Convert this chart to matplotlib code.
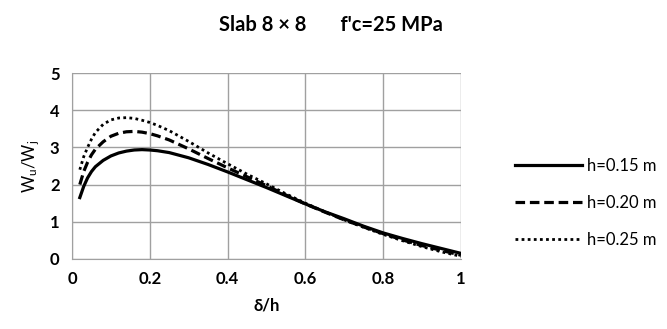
import matplotlib
matplotlib.use("Agg")
import matplotlib.pyplot as plt

plt.rcParams['font.family'] = ['Lato', 'DejaVu Sans']
plt.rcParams['mathtext.fontset'] = 'custom'
plt.rcParams['mathtext.rm'] = 'Lato'

x = [0.02, 0.03, 0.04, 0.05, 0.06, 0.08, 0.1, 0.12, 0.14, 0.16, 0.18, 0.2, 0.22, 0.25, 0.3,
     0.35, 0.4, 0.45, 0.5, 0.55, 0.6, 0.65, 0.7, 0.75, 0.8, 0.85, 0.9, 0.95, 1.0]
h015 = [1.65, 1.95, 2.18, 2.35, 2.48, 2.65, 2.77, 2.85, 2.9, 2.93, 2.94, 2.93, 2.91, 2.86, 2.72,
        2.54, 2.34, 2.13, 1.92, 1.70, 1.48, 1.27, 1.08, 0.88, 0.70, 0.55, 0.41, 0.28, 0.15]
h020 = [2.0, 2.35, 2.6, 2.8, 2.95, 3.15, 3.3, 3.38, 3.42, 3.43, 3.41, 3.37, 3.31, 3.2, 2.96,
        2.70, 2.45, 2.21, 1.97, 1.72, 1.48, 1.26, 1.05, 0.86, 0.68, 0.51, 0.36, 0.23, 0.10]
h025 = [2.4, 2.75, 3.0, 3.22, 3.4, 3.62, 3.74, 3.79, 3.8, 3.78, 3.73, 3.67, 3.59, 3.45, 3.16,
        2.85, 2.56, 2.28, 2.02, 1.75, 1.50, 1.27, 1.05, 0.85, 0.66, 0.49, 0.33, 0.19, 0.07]
labels = ['h=0.15 m', 'h=0.20 m', 'h=0.25 m']

fig = plt.figure(figsize=(6.67, 3.29), dpi=100)
ax = fig.add_axes([0.108, 0.213, 0.583, 0.565])

ax.plot(x, h015, color='black', lw=2.3, ls='-', label=labels[0])
ax.plot(x, h020, color='black', lw=2.3, ls=(0, (3, 1.5)), label=labels[1])
ax.plot(x, h025, color='black', lw=2.0, ls=(0, (1, 1.2)), label=labels[2])

ax.set_xlim(0, 1)
ax.set_ylim(0, 5)
ax.set_xticks([0, 0.2, 0.4, 0.6, 0.8, 1])
ax.set_xticklabels(['0', '0.2', '0.4', '0.6', '0.8', '1'])
ax.set_yticks([0, 1, 2, 3, 4, 5])
ax.grid(True, color='#a0a0a0', lw=1)
ax.set_axisbelow(True)
for s in ['top', 'right']:
    ax.spines[s].set_visible(False)
for s in ['left', 'bottom']:
    ax.spines[s].set_color('#a0a0a0')
ax.tick_params(length=0, labelsize=12, pad=9)
for t in ax.get_xticklabels() + ax.get_yticklabels():
    t.set_fontweight('bold')

ax.set_xlabel('δ/h', fontsize=12, fontweight='bold', labelpad=7)
ax.set_ylabel(r'$\mathregular{W_u/W_j}$', fontsize=12, labelpad=6)
fig.text(0.496, 0.925, 'Slab 8 \u00d7 8       f\'c=25 MPa', ha='center', va='center',
         fontsize=14.5, fontweight='bold')

fig.legend(loc='center left', bbox_to_anchor=(0.75, 0.383), frameon=False,
           fontsize=12, handlelength=4.0, handletextpad=0.3, labelspacing=1.25)

fig.savefig('out.png', dpi=100)
